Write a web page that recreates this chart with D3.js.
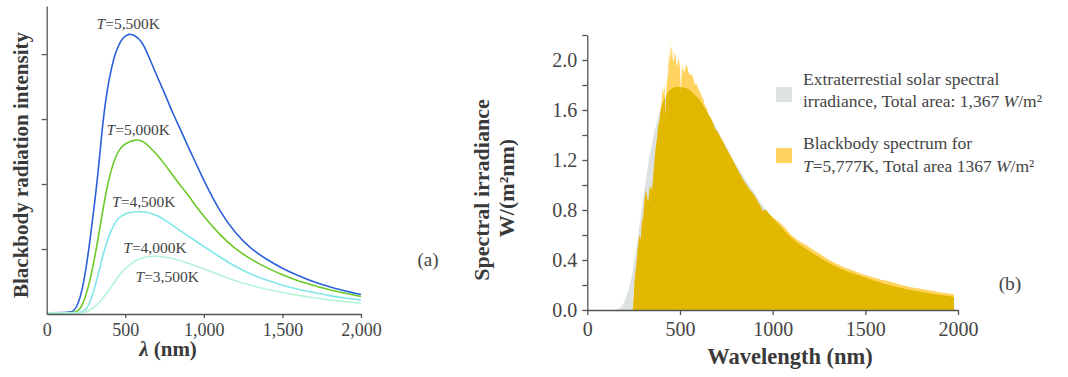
<!DOCTYPE html>
<html><head><meta charset="utf-8">
<script src="https://cdn.jsdelivr.net/npm/d3@7/dist/d3.min.js"></script>
<style>
body{margin:0;background:#fff}
svg{display:block}
text{font-family:"Liberation Serif","Times New Roman",serif;}
</style>
</head><body>
<svg id="chart" width="1068" height="377"></svg>
<script>
// ---------- Panel (a) data ----------
const wavelengthA = [0,150,175,200,225,250,275,300,325,350,375,400,425,450,475,500,525,550,575,600,625,650,700,750,800,850,900,950,1000,1100,1200,1300,1400,1500,1600,1700,1800,1900,2000];
const intensity5500 = [0.02,0.02,0.05,0.15,0.36,0.69,1.12,1.61,2.12,2.78,3.30,3.65,3.92,4.10,4.22,4.28,4.31,4.30,4.26,4.20,4.10,3.96,3.67,3.40,3.10,2.85,2.57,2.32,2.05,1.58,1.24,1.00,0.84,0.70,0.59,0.49,0.42,0.35,0.30];
const intensity5000 = [0.02,0.02,0.02,0.05,0.12,0.29,0.51,0.80,1.13,1.50,1.84,2.13,2.33,2.48,2.57,2.62,2.65,2.67,2.68,2.67,2.64,2.58,2.46,2.31,2.14,1.98,1.83,1.66,1.50,1.22,1.00,0.84,0.71,0.60,0.51,0.44,0.37,0.32,0.27];
const intensity4500 = [0.02,0.02,0.02,0.02,0.03,0.07,0.17,0.36,0.58,0.83,1.05,1.23,1.36,1.46,1.51,1.54,1.56,1.57,1.575,1.575,1.57,1.56,1.52,1.45,1.37,1.28,1.20,1.12,1.04,0.88,0.73,0.61,0.52,0.44,0.38,0.33,0.28,0.245,0.215];
const intensity4000 = [0.02,0.02,0.02,0.02,0.02,0.03,0.06,0.10,0.15,0.22,0.30,0.38,0.47,0.56,0.64,0.70,0.75,0.80,0.83,0.86,0.875,0.885,0.89,0.88,0.86,0.82,0.78,0.74,0.70,0.60,0.51,0.44,0.38,0.33,0.285,0.25,0.215,0.19,0.165];
const temperatureLabels = ["5,500K","5,000K","4,500K","4,000K","3,500K"];
const labelWavelength = [519,583,618,689,767];
const labelIntensity = [4.385,2.754,1.646,0.943,0.497];
const wavelengthTicksA = [0,500,1000,1500,2000];
const intensityTicks = [1,2,3,4];

// ---------- Panel (b) data ----------
const blackbody5777 = [[150,0],[160,0.005],[180,0.02],[200,0.07],[220,0.15],[240,0.27],[260,0.45],[280,0.66],[300,0.88],[320,1.08],[340,1.26],[360,1.41],[380,1.53],[400,1.63],[420,1.70],[440,1.75],[460,1.775],[480,1.785],[500,1.785],[520,1.78],[540,1.77],[560,1.75],[580,1.72],[600,1.69],[640,1.60],[680,1.50],[720,1.39],[760,1.28],[800,1.17],[850,1.05],[900,0.94],[950,0.83],[1000,0.74],[1100,0.58],[1200,0.47],[1300,0.38],[1400,0.31],[1500,0.26],[1600,0.21],[1700,0.175],[1800,0.145],[1900,0.122],[1980,0.105]];
const solarSpectrum = [[245,0],[250,0.08],[257,0.27],[265,0.36],[275,0.53],[282,0.60],[288,0.56],[295,0.70],[302,0.75],[309,0.88],[316,0.96],[322,0.90],[329,0.86],[336,0.97],[342,0.99],[349,0.95],[356,1.07],[363,1.20],[370,1.31],[377,1.38],[383,1.47],[390,1.52],[396,1.60],[401,1.66],[406,1.79],[410,1.72],[415,1.81],[419,1.70],[423,1.53],[427,1.78],[431,1.84],[436,1.90],[440,2.05],[443,1.96],[446,2.16],[449,2.02],[451,2.03],[454,2.10],[458,2.09],[462,1.98],[467,2.00],[471,2.06],[476,2.04],[480,1.97],[485,1.95],[490,2.01],[496,1.99],[500,1.93],[505,1.73],[509,1.90],[514,1.96],[520,1.90],[527,1.92],[533,1.96],[539,1.95],[546,1.90],[553,1.88],[560,1.89],[568,1.87],[575,1.83],[582,1.80],[590,1.81],[598,1.77],[607,1.75],[617,1.71],[625,1.69],[634,1.64],[643,1.62],[652,1.57],[661,1.55],[671,1.52],[680,1.49],[688,1.45],[700,1.43],[715,1.39],[730,1.35],[751,1.29],[770,1.24],[787,1.19],[805,1.14],[823,1.09],[841,1.04],[859,1.00],[877,0.96],[895,0.93],[908,0.90],[922,0.86],[935,0.83],[946,0.79],[955,0.80],[965,0.80],[980,0.77],[1000,0.74],[1030,0.71],[1060,0.67],[1100,0.60],[1140,0.555],[1180,0.52],[1220,0.48],[1260,0.445],[1300,0.405],[1340,0.375],[1360,0.36],[1380,0.345],[1400,0.335],[1420,0.325],[1460,0.30],[1500,0.28],[1540,0.262],[1580,0.245],[1620,0.232],[1660,0.217],[1700,0.198],[1740,0.185],[1780,0.175],[1820,0.165],[1860,0.155],[1900,0.143],[1940,0.134],[1978,0.126]];
const wavelengthTicksB = [0,500,1000,1500,2000];
const irradianceTicks = [0,0.2,0.4,0.6,0.8,1.0,1.2,1.4,1.6,1.8,2.0,2.2];
const irradianceLabelTicks = [0,0.4,0.8,1.2,1.6,2.0];

// ---------- styles ----------
const curveColors = ["#2b60d9","#6cc828","#80e6ea","#b6f4da"];
const axisColor = "#555";
const textColor = "#444";

const svg = d3.select("#chart");

// ================= Panel (a) =================
const xA = d3.scaleLinear().domain([0,2000]).range([46.7,361]);
const yA = d3.scaleLinear().domain([0,4.74]).range([314,6]);
const gA = svg.append("g");

const seriesA = [intensity5500,intensity5000,intensity4500,intensity4000];
const lineA = d3.line().x(d=>xA(d[0])).y(d=>yA(d[1])).curve(d3.curveBasis);
seriesA.forEach((vals,i)=>{
  gA.append("path")
    .attr("d", lineA(wavelengthA.map((w,j)=>[w,vals[j]])))
    .attr("fill","none").attr("stroke",curveColors[i]).attr("stroke-width",1.6);
});

const axA_y = gA.append("g").attr("transform",`translate(${xA(0)},0)`)
  .call(d3.axisLeft(yA).tickValues(intensityTicks).tickFormat("").tickSize(5).tickSizeOuter(0));
const axA_x = gA.append("g").attr("transform",`translate(0,${yA(0)})`)
  .call(d3.axisBottom(xA).tickValues(wavelengthTicksA).tickFormat(d3.format(",")).tickSize(4).tickPadding(5).tickSizeOuter(0));
[axA_y,axA_x].forEach(a=>{
  a.selectAll("path,line").attr("stroke",axisColor).attr("stroke-width",1.3);
  a.selectAll("text").attr("fill",textColor).style("font-size","18px").style("font-family",'"Liberation Serif",serif');
});
axA_x.select(".tick line").attr("y2",0);

temperatureLabels.forEach((t,i)=>{
  const tx = gA.append("text").attr("x",xA(labelWavelength[i])).attr("y",yA(labelIntensity[i]))
    .attr("text-anchor","middle").attr("fill",textColor).style("font-size","15.5px");
  tx.append("tspan").attr("font-style","italic").text("T");
  tx.append("tspan").text("="+t);
});

gA.append("text").attr("transform","translate(28,165) rotate(-90)").attr("text-anchor","middle")
  .attr("fill","#3a3a3a").style("font-size","21px").style("font-weight","bold").text("Blackbody radiation intensity");
const xtA = gA.append("text").attr("x",168).attr("y",356).attr("text-anchor","middle")
  .attr("fill","#3a3a3a").style("font-size","21px").style("font-weight","bold");
xtA.append("tspan").attr("font-style","italic").text("λ");
xtA.append("tspan").text(" (nm)");
gA.append("text").attr("x",428).attr("y",266).attr("text-anchor","middle").attr("fill",textColor)
  .style("font-size","19px").text("(a)");

// ================= Panel (b) =================
const xB = d3.scaleLinear().domain([0,2000]).range([587.3,958]);
const yB = d3.scaleLinear().domain([0,2.2]).range([310,35]);
const gB = svg.append("g");

const areaSmooth = d3.area().x(d=>xB(d[0])).y0(yB(0)).y1(d=>yB(d[1])).curve(d3.curveMonotoneX);
const areaSolar = d3.area().x(d=>xB(d[0])).y0(yB(0)).y1(d=>yB(d[1])).curve(d3.curveLinear);

gB.append("defs").append("clipPath").attr("id","clipBB").append("path").attr("d",areaSmooth(blackbody5777));
gB.append("path").attr("d",areaSmooth(blackbody5777)).attr("fill","#dce2e2");
gB.append("path").attr("d",areaSolar(solarSpectrum)).attr("fill","#ffd35e");
gB.append("path").attr("d",areaSolar(solarSpectrum)).attr("fill","#e1b700").attr("clip-path","url(#clipBB)");

const fmtB = d3.format(".1f");
const axB_y = gB.append("g").attr("transform",`translate(${xB(0)},0)`)
  .call(d3.axisLeft(yB).tickValues(irradianceTicks)
    .tickFormat(d=>irradianceLabelTicks.some(v=>Math.abs(v-d)<1e-6)?fmtB(d):"")
    .tickSize(5).tickPadding(5).tickSizeOuter(0));
const axB_x = gB.append("g").attr("transform",`translate(0,${yB(0)})`)
  .call(d3.axisBottom(xB).tickValues(wavelengthTicksB).tickFormat(d3.format("d")).tickSize(5).tickPadding(7).tickSizeOuter(0));
[axB_y,axB_x].forEach(a=>{
  a.selectAll("path,line").attr("stroke",axisColor).attr("stroke-width",1.3);
  a.selectAll("text").attr("fill",textColor).style("font-size","20px").style("font-family",'"Liberation Serif",serif');
});

gB.append("text").attr("transform","translate(489,190) rotate(-90)").attr("text-anchor","middle")
  .attr("fill","#3a3a3a").style("font-size","22px").style("font-weight","bold").text("Spectral irradiance");
gB.append("text").attr("transform","translate(514,188) rotate(-90)").attr("text-anchor","middle")
  .attr("fill","#3a3a3a").style("font-size","22px").style("font-weight","bold").text("W/(m²nm)");
gB.append("text").attr("x",790).attr("y",364).attr("text-anchor","middle")
  .attr("fill","#3a3a3a").style("font-size","22.5px").style("font-weight","bold").text("Wavelength (nm)");
gB.append("text").attr("x",1010).attr("y",290).attr("text-anchor","middle").attr("fill",textColor)
  .style("font-size","19.5px").text("(b)");

// legend
const legend = gB.append("g");
legend.append("rect").attr("x",776).attr("y",87).attr("width",16).attr("height",15).attr("fill","#dde3e3");
legend.append("rect").attr("x",776).attr("y",148).attr("width",16).attr("height",15).attr("fill","#ffd35e");
const lt = (y)=>legend.append("text").attr("x",803).attr("y",y).attr("fill",textColor).style("font-size","17.5px");
lt(85).text("Extraterrestial solar spectral");
const l2 = lt(106.7); l2.append("tspan").text("irradiance, Total area: 1,367 ");
l2.append("tspan").attr("font-style","italic").text("W"); l2.append("tspan").text("/m²");
lt(149.3).text("Blackbody spectrum for");
const l4 = lt(171.7); l4.append("tspan").attr("font-style","italic").text("T");
l4.append("tspan").text("=5,777K, Total area 1367 ");
l4.append("tspan").attr("font-style","italic").text("W"); l4.append("tspan").text("/m²");
</script>
</body></html>
